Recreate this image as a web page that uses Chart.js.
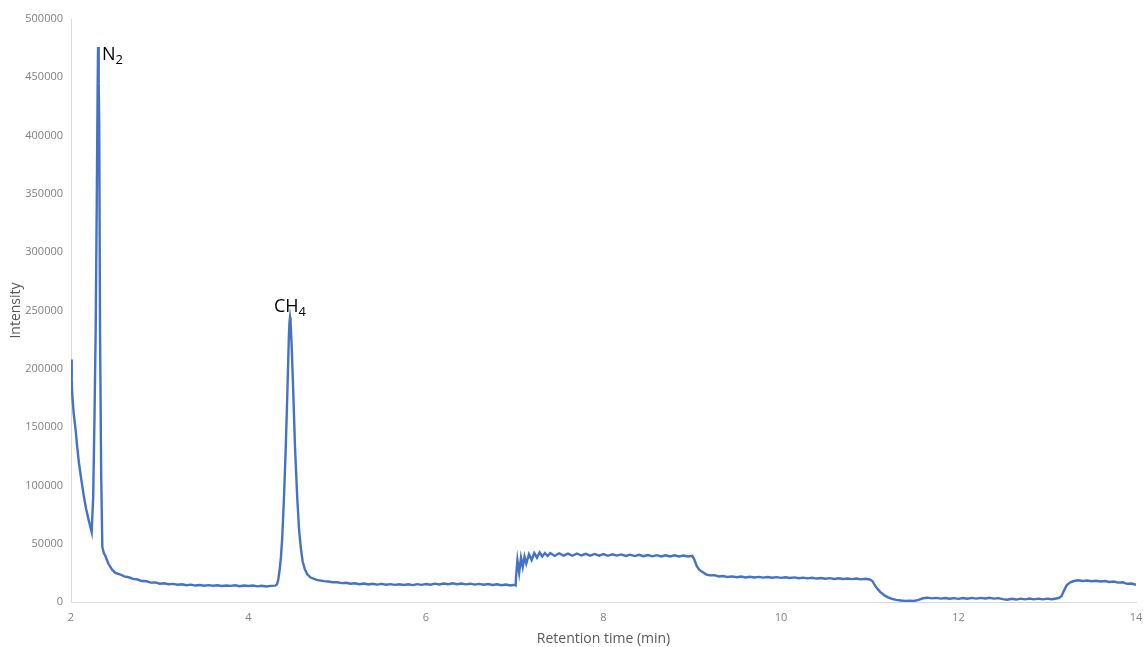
<!DOCTYPE html>
<html lang="en">
<head>
    <meta charset="UTF-8">
    <title>Chromatogram</title>
    <style>
        html, body { margin: 0; padding: 0; background: #fff; overflow: hidden; }
        #wrap { width: 1146px; height: 647px; position: relative; }
    </style>
</head>
<body>
    <div id="wrap"><canvas id="chromChart"></canvas></div>

    <script src="https://cdn.jsdelivr.net/npm/chart.js"></script>
    <script>
        // retention time (min) and detector intensity
        const retentionTime = [
            2.000, 2.008, 2.015, 2.03, 2.053, 2.07, 2.09, 2.12, 2.146, 2.17, 2.20, 2.233,
            2.25, 2.265, 2.278, 2.29, 2.30, 2.305, 2.312, 2.318, 2.327, 2.34, 2.353, 2.37, 2.39,
            2.42, 2.465, 2.50, 2.55, 2.60, 2.65, 2.70,
            2.75, 2.80, 2.85, 2.90, 2.95, 3.00, 3.05, 3.10, 3.15, 3.20, 3.25, 3.30, 3.35, 3.40, 3.45,
            3.50, 3.55, 3.60, 3.65, 3.70, 3.75, 3.80, 3.85, 3.90, 3.95, 4.00, 4.05, 4.10, 4.15, 4.20, 4.25,
            4.30, 4.32, 4.335, 4.35, 4.365, 4.38, 4.40, 4.42, 4.44, 4.455, 4.462, 4.468, 4.474, 4.485, 4.50, 4.524,
            4.55, 4.57, 4.59, 4.61, 4.635, 4.66, 4.70, 4.77,
            4.85, 4.90, 4.95, 5.00, 5.05, 5.10, 5.15, 5.20, 5.25, 5.30, 5.35, 5.40, 5.45, 5.50, 5.55,
            5.60, 5.65, 5.70, 5.75, 5.80, 5.85, 5.90, 5.95, 6.00, 6.05, 6.10, 6.15, 6.20, 6.25, 6.30,
            6.35, 6.40, 6.45, 6.50, 6.55, 6.60, 6.65, 6.70, 6.75, 6.80, 6.85, 6.90, 6.95, 7.00, 7.01,
            7.015, 7.03, 7.05, 7.07, 7.09, 7.11, 7.13, 7.16, 7.19, 7.22, 7.25, 7.28, 7.31, 7.34, 7.37,
            7.40, 7.45, 7.50, 7.55, 7.60, 7.65, 7.70, 7.75, 7.80, 7.85, 7.90, 7.95, 8.00, 8.05, 8.10,
            8.15, 8.20, 8.25, 8.30, 8.35, 8.40, 8.45, 8.50, 8.55, 8.60, 8.65, 8.70, 8.75, 8.80, 8.85,
            8.90, 8.95, 9.00, 9.02, 9.05, 9.08, 9.12, 9.16, 9.20, 9.25, 9.30,
            9.35, 9.40, 9.45, 9.50, 9.55, 9.60, 9.65, 9.70, 9.75, 9.80, 9.85, 9.90, 9.95, 10.00, 10.05,
            10.10, 10.15, 10.20, 10.25, 10.30, 10.35, 10.40, 10.45, 10.50, 10.55, 10.60, 10.65, 10.70,
            10.75, 10.80, 10.85, 10.90, 10.95, 11.00,
            11.03, 11.06, 11.09, 11.12, 11.16, 11.20, 11.25, 11.30, 11.35, 11.40, 11.45, 11.50, 11.55,
            11.60, 11.65, 11.70, 11.75, 11.80, 11.85, 11.90, 11.95, 12.00, 12.05, 12.10, 12.15, 12.20,
            12.25, 12.30, 12.35, 12.40, 12.45, 12.50, 12.55, 12.60, 12.65, 12.70, 12.75, 12.80, 12.85,
            12.90, 12.95, 13.00, 13.05, 13.10, 13.13, 13.16, 13.19, 13.22, 13.26, 13.30,
            13.35, 13.40, 13.45, 13.50, 13.55, 13.60, 13.65, 13.70, 13.75, 13.80, 13.85, 13.90, 13.95, 14.00
        ];

        const intensity = [
            208000, 190000, 177000, 162000, 147000, 133000, 119000, 103000, 90000, 80000, 70000, 60000,
            90000, 160000, 233000, 340000, 440000, 476000, 445000, 410000, 233000, 110000, 47000, 42000, 39000,
            33000, 27500, 25000, 23800, 22000, 21200, 19800,
            19300, 18000, 17800, 16600, 16800, 15700, 16100, 15200, 15500, 14800, 15200, 14400, 14900, 14100, 14600,
            13900, 14500, 14000, 14300, 13700, 14200, 13800, 14300, 13500, 14100, 13700, 14100, 13400, 13900, 13300, 13800,
            14000, 15000, 19000, 27000, 38000, 55000, 90000, 133000, 185000, 228000, 240000, 244000, 240000, 222000, 190000, 133000,
            88000, 62000, 46000, 35000, 28000, 24000, 21000, 19000,
            17900, 17600, 17000, 16900, 16200, 16500, 15700, 16100, 15300, 15800, 15000, 15600, 14900, 15500, 14800,
            15300, 14700, 15200, 14600, 15200, 14500, 15300, 14700, 15400, 14800, 15700, 15000, 15900, 15200, 16000,
            15300, 15900, 15100, 15700, 14900, 15500, 14800, 15400, 14600, 15200, 14400, 15000, 14200, 14700, 14200,
            22000, 36000, 25000, 38000, 30000, 39000, 33000, 41000, 36000, 42000, 38000, 42500, 39000, 42000, 39500,
            42000, 39500, 41800, 39800, 41500, 39700, 41600, 39900, 41300, 39800, 41200, 39700, 41100, 39600, 40900,
            39800, 40800, 39500, 40600, 39400, 40500, 39300, 40300, 39200, 40200, 39100, 40100, 39000, 40000, 39000,
            39900, 39100, 39600, 37000, 31000, 27500, 25500, 23500, 22800, 23000, 21900,
            22300, 21400, 22000, 21200, 21800, 21000, 21700, 21000, 21500, 20900, 21400, 20800, 21300, 20700, 21200,
            20600, 21100, 20400, 20900, 20300, 20800, 20100, 20600, 20000, 20500, 19800, 20300, 19700,
            20200, 19600, 20100, 19400, 19900, 19300,
            18000, 14000, 11000, 8500, 6000, 4200, 2600, 1800, 1300, 1000, 1200, 900, 1800,
            3200, 3700, 3100, 3500, 2900, 3400, 2800, 3300, 2700, 3400, 2800, 3500, 2900,
            3500, 3000, 3600, 2900, 3300, 2500, 2000, 2800, 2100, 2900, 2300, 3000, 2300,
            2900, 2300, 2900, 2400, 3000, 3400, 5000, 10000, 14500, 16800, 18000,
            18600, 18000, 18400, 17800, 18200, 17600, 18000, 17200, 17600, 16600, 16900, 15600, 15800, 14800
        ];

        // peak labels: base text, subscript, where the peak sits
        const peakNames = ['N', 'CH'];
        const peakSubs = ['2', '4'];
        const peakTimes = [2.305, 4.468];
        const peakValues = [476000, 244000];

        const xTitle = 'Retention time (min)';
        const yTitle = 'Intensity';

        const points = retentionTime.map((t, i) => ({ x: t, y: intensity[i] }));

        // draws N2 / CH4 next to their peaks
        const peakLabelPlugin = {
            id: 'peakLabels',
            afterDatasetsDraw(chart) {
                const ctx = chart.ctx;
                const xs = chart.scales.x;
                const ys = chart.scales.y;
                ctx.save();
                ctx.fillStyle = '#000';
                ctx.textBaseline = 'alphabetic';
                ctx.textAlign = 'left';
                peakNames.forEach((name, i) => {
                    const px = xs.getPixelForValue(peakTimes[i]);
                    const py = ys.getPixelForValue(peakValues[i]);
                    ctx.font = '18px "Open Sans", sans-serif';
                    const w = ctx.measureText(name).width;
                    ctx.font = '13px "Open Sans", sans-serif';
                    const ws = ctx.measureText(peakSubs[i]).width;
                    let left, base;
                    if (i === 0) {
                        left = px + 4;
                        base = py + 13;
                    } else {
                        left = px - (w + ws) / 2;
                        base = py - 5;
                    }
                    ctx.font = '18px "Open Sans", sans-serif';
                    ctx.fillText(name, left, base);
                    ctx.font = '13px "Open Sans", sans-serif';
                    ctx.fillText(peakSubs[i], left + w, base + 4);
                });
                ctx.restore();
            }
        };

        const ctx = document.getElementById('chromChart').getContext('2d');
        new Chart(ctx, {
            type: 'line',
            data: {
                datasets: [{
                    data: points,
                    borderColor: '#4472c4',
                    borderWidth: 2.4,
                    pointRadius: 0,
                    tension: 0,
                    fill: false
                }]
            },
            options: {
                responsive: true,
                maintainAspectRatio: false,
                animation: false,
                layout: { padding: { top: 19, right: 10, left: 0, bottom: 0 } },
                plugins: {
                    legend: { display: false },
                    tooltip: { enabled: false }
                },
                scales: {
                    x: {
                        type: 'linear',
                        min: 2,
                        max: 14,
                        afterFit: s => {
                            s.height = 45;
                            s.paddingLeft = 0;
                            s.paddingRight = 0;
                        },
                        grid: { display: true, drawOnChartArea: false, drawTicks: false },
                        border: { display: true, color: '#d9d9d9', width: 1 },
                        ticks: {
                            stepSize: 2,
                            padding: 9,
                            color: '#808080',
                            font: { family: '"Open Sans", sans-serif', size: 11 }
                        },
                        title: {
                            display: true,
                            text: xTitle,
                            color: '#595959',
                            padding: { top: 2, bottom: 0 },
                            font: { family: '"Open Sans", sans-serif', size: 14 }
                        }
                    },
                    y: {
                        min: 0,
                        max: 500000,
                        afterFit: s => {
                            s.width = 71;
                            s.paddingTop = 0;
                            s.paddingBottom = 0;
                        },
                        grid: { display: true, drawOnChartArea: false, drawTicks: false },
                        border: { display: true, color: '#d9d9d9', width: 1 },
                        ticks: {
                            stepSize: 50000,
                            padding: 8,
                            color: '#808080',
                            font: { family: '"Open Sans", sans-serif', size: 11 },
                            callback: v => String(v)
                        },
                        title: {
                            display: true,
                            text: yTitle,
                            color: '#595959',
                            padding: { top: 8, bottom: 0 },
                            font: { family: '"Open Sans", sans-serif', size: 14 }
                        }
                    }
                }
            },
            plugins: [peakLabelPlugin]
        });
    </script>
</body>
</html>
